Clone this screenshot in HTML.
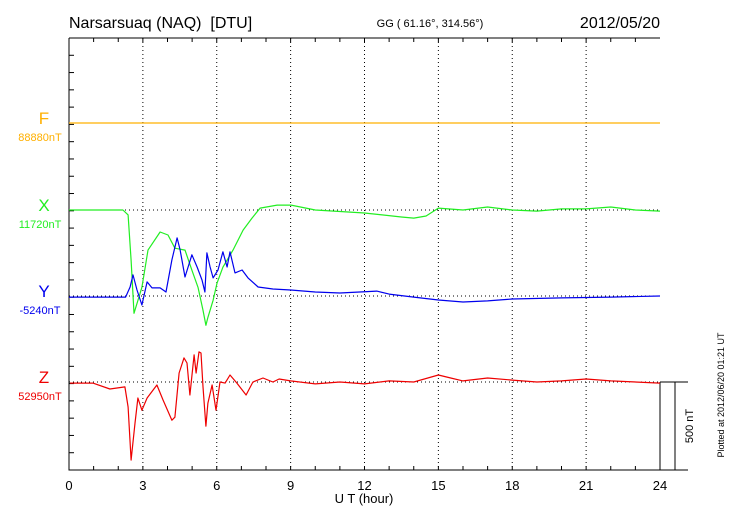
<!DOCTYPE html>
<html><head><meta charset="utf-8"><style>
html,body{margin:0;padding:0;background:#fff;}
svg{display:block;font-family:"Liberation Sans",sans-serif;}
</style></head><body>
<svg id="chart" width="730" height="520" viewBox="0 0 730 520" xmlns="http://www.w3.org/2000/svg">
<text x="69" y="28" font-size="16">Narsarsuaq (NAQ)&#160; [DTU]</text>
<text x="430" y="27" font-size="11" text-anchor="middle">GG ( 61.16°, 314.56°)</text>
<text x="660" y="28" font-size="16" text-anchor="end">2012/05/20</text>
<g id="grid"></g>
<g id="axes"></g>
<g id="series"></g>
<g id="labels"></g>
<text x="364" y="503" font-size="13" text-anchor="middle">U T (hour)</text>
<text x="693" y="426" font-size="11" text-anchor="middle" transform="rotate(-90 693 426)">500 nT</text>
<text x="724" y="395" font-size="9" text-anchor="middle" transform="rotate(-90 724 395)">Plotted at 2012/06/20 01:21  UT</text>
</svg>
<script>
const xTicks = [0,3,6,9,12,15,18,21,24];
const compNames = ["F","X","Y","Z"];
const compBaselines = ["88880nT","11720nT","-5240nT","52950nT"];
const fTimes = [0,24];
const fValues = [0,0];
const xTimes = [0,2.19,2.40,2.52,2.64,2.96,3.21,3.70,4.02,4.30,4.71,4.99,5.24,5.44,5.56,5.64,5.85,6.01,6.25,6.66,7.07,7.43,7.76,8.45,9.02,10,12,13.5,14,14.5,15,16,17,18,19,20,21,22,23,24];
const xValues = [0,0,-28,-285,-587,-439,-228,-125,-142,-217,-228,-342,-439,-570,-655,-610,-513,-416,-325,-228,-114,-46,11,28,28,0,-17,-40,-46,-34,11,0,17,0,-6,6,6,17,0,-6];
const yTimes = [0,2.3,2.48,2.60,2.76,2.96,3.17,3.37,3.70,3.94,4.18,4.39,4.51,4.71,4.99,5.20,5.40,5.52,5.60,5.73,5.85,6.05,6.25,6.42,6.54,6.74,7.03,7.27,7.68,8.28,9,10,11,12.5,13,14,15,16,17,18,20,22,24];
const yValues = [-6,-6,51,120,34,-51,80,46,46,23,205,330,262,108,234,165,91,23,245,165,103,148,251,165,251,131,148,103,51,40,34,23,17,28,11,-6,-23,-34,-28,-17,-11,-6,0];
const zTimes = [0.04,0.97,1.66,2.27,2.40,2.52,2.68,2.80,2.96,3.17,3.57,3.82,4.18,4.30,4.47,4.67,4.79,4.91,5.08,5.16,5.28,5.36,5.44,5.56,5.64,5.81,5.97,6.13,6.34,6.54,6.82,7.19,7.47,7.88,8.28,8.53,9,10,11,12,13,14,15,15.5,16,17,18,19,20,21,22,24];
const zValues = [-6,-6,-40,-28,-142,-444,-234,-91,-160,-91,-17,-103,-217,-200,51,137,108,-74,154,51,171,165,-28,-251,-120,-17,-160,0,-6,40,-6,-74,0,23,0,17,6,-11,0,-11,6,0,40,23,6,23,11,0,6,17,6,-6];

const NS="http://www.w3.org/2000/svg";
const L=69,R=660,T=38,B=470;
const baseY=[123,210,296,382];
const pxPerNT=88/500;
const colors=["#ffb000","#22ee22","#0000ee","#ee0000"];
const xs=h=>L+h*(R-L)/24;
const ys=(i,v)=>baseY[i]-v*pxPerNT;
function mk(tag,attrs,parent){const e=document.createElementNS(NS,tag);for(const k in attrs)e.setAttribute(k,attrs[k]);parent.appendChild(e);return e;}
const grid=document.getElementById('grid'),axes=document.getElementById('axes'),series=document.getElementById('series'),labels=document.getElementById('labels');
xTicks.forEach(t=>{if(t>0&&t<24){const g=mk('line',{x1:xs(t),x2:xs(t),y1:T,y2:B,stroke:'#000','stroke-width':1,'stroke-dasharray':'1,3'},grid);

}});
baseY.forEach((y,i)=>{const g=mk('line',{x1:L,x2:R,y1:y,y2:y,stroke:'#000','stroke-width':1,'stroke-dasharray':'1,3'},grid);

});
mk('path',{d:`M${L},${T}H${R}M${L},${T}V${B}H${R}M${R},382V${B}`,stroke:'#000',fill:'none','stroke-width':1},axes);
for(let h=1;h<24;h++){mk('line',{x1:xs(h),x2:xs(h),y1:T,y2:T+4,stroke:'#000'},axes);mk('line',{x1:xs(h),x2:xs(h),y1:B,y2:B-4,stroke:'#000'},axes);}
for(let k=1;k<25;k++){const y=T+k*(B-T)/25;mk('line',{x1:L,x2:L+5,y1:y,y2:y,stroke:'#000'},axes);}
mk('path',{d:`M${R},382H688M${R},${B}H688M675,382V${B}`,stroke:'#000',fill:'none'},axes);
xTicks.forEach(t=>{const tx=mk('text',{x:xs(t),y:490,'font-size':13,'text-anchor':'middle'},labels);tx.textContent=t;

});
compNames.forEach((n,i)=>{const a=mk('text',{x:44,y:baseY[i]+1,'font-size':17,'text-anchor':'middle',fill:colors[i]},labels);a.textContent=n;


const b=mk('text',{x:40,y:baseY[i]+18,'font-size':11,'text-anchor':'middle',fill:colors[i]},labels);b.textContent=compBaselines[i];

});
[[fTimes,fValues],[xTimes,xValues],[yTimes,yValues],[zTimes,zValues]].forEach((s,i)=>{
const d=s[0].map((t,j)=>(j?'L':'M')+xs(t).toFixed(1)+','+ys(i,s[1][j]).toFixed(1)).join('');
const p=mk('path',{d:d,stroke:colors[i],fill:'none','stroke-width':1.2,'stroke-linejoin':'round'},series);

});
</script>
</body></html>
